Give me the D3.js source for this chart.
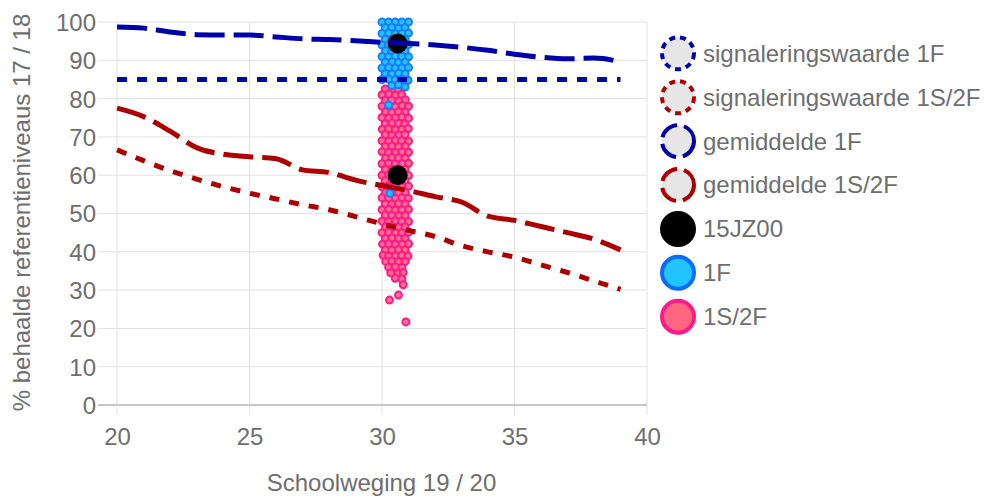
<!DOCTYPE html>
<html>
<head>
<meta charset="utf-8">
<script src="https://cdn.jsdelivr.net/npm/d3@7"></script>
<style>
  html, body { margin: 0; padding: 0; background: #ffffff; }
  svg { display: block; font-family: "Liberation Sans", Arial, sans-serif; }
</style>
</head>
<body>
<svg id="chart" width="985" height="501"></svg>
<script>
// ---------- DATA ----------
const weights = [20,21,22,23,24,25,26,27,28,29,30,31,32,33,34,35,36,37,38,39];
const signal1F   = [85,85,85,85,85,85,85,85,85,85,85,85,85,85,85,85,85,85,85,85];
const signal1S2F = [66.6,63.8,61.2,59.0,57.0,55.3,53.8,52.3,51.0,49.2,47.3,45.6,44.0,41.6,40.0,38.6,36.6,34.6,32.4,30.2];
const mean1F     = [98.7,98.4,97.4,96.7,96.6,96.6,96.1,95.6,95.4,95.1,94.7,94.4,94.0,93.4,92.6,91.6,90.8,90.4,90.6,89.6];
const mean1S2F   = [77.5,75.3,71.5,67.2,65.5,64.8,64.3,61.4,60.7,58.7,57.3,56.0,54.4,53.0,49.3,48.2,46.6,45.0,43.3,40.5];

const school = [[30.59,94.4],[30.59,60.0]];

const points1F = [
  [30.0,100],[30.25,100],[30.5,100],[30.75,100],[31.0,100],
  [30.12,98.5],[30.37,98.6],[30.62,98.4],[30.87,98.5],
  [30.0,97.0],[30.25,97.1],[30.5,96.9],[30.75,97.0],[31.0,97.1],
  [30.12,95.5],[30.37,95.4],[30.62,95.6],[30.87,95.5],
  [30.0,94.0],[30.25,94.1],[30.5,93.9],[30.75,94.0],[31.0,94.1],
  [30.13,92.5],[30.37,92.6],[30.62,92.4],[30.87,92.5],
  [30.0,91.0],[30.25,90.9],[30.5,91.1],[30.75,91.0],[31.0,90.9],
  [30.12,89.5],[30.38,89.6],[30.62,89.4],[30.87,89.5],
  [30.0,88.0],[30.25,88.1],[30.5,87.9],[30.75,88.0],[31.0,88.1],
  [30.12,86.5],[30.37,86.4],[30.63,86.6],[30.87,86.5],
  [30.0,85.0],[30.25,85.1],[30.5,84.9],[30.75,85.0],[30.98,84.8],
  [30.37,83.4],[30.62,83.6],[30.87,83.0],
  [30.25,78.3],[30.3,55.3]
];

const points1S2F = [
  [30.12,82.5],[30.38,82.3],[30.6,82.6],
  [30.0,81.0],[30.26,81.2],[30.5,80.9],[30.74,81.1],
  [30.12,79.5],[30.36,79.6],[30.63,79.4],[30.88,79.7],
  [30.0,78.0],[30.24,78.1],[30.5,77.9],[30.76,78.2],[31.0,78.0],
  [30.13,76.5],[30.37,76.4],[30.62,76.6],[30.87,76.5],
  [30.0,75.1],[30.25,74.9],[30.51,75.0],[30.75,75.2],[31.0,74.9],
  [30.12,73.4],[30.38,73.6],[30.62,73.5],[30.86,73.4],
  [30.01,72.0],[30.25,72.1],[30.5,71.9],[30.75,72.0],[30.99,72.2],
  [30.12,70.6],[30.37,70.4],[30.63,70.5],[30.87,70.6],
  [30.0,69.0],[30.26,68.9],[30.5,69.1],[30.74,69.0],[31.0,68.9],
  [30.12,67.5],[30.37,67.6],[30.62,67.4],[30.88,67.5],
  [30.0,66.1],[30.25,66.0],[30.5,65.9],[30.75,66.1],[31.0,66.0],
  [30.13,64.4],[30.37,64.6],[30.62,64.5],[30.87,64.4],
  [30.0,63.0],[30.25,63.1],[30.49,62.9],[30.75,63.0],[31.0,63.1],
  [30.12,61.5],[30.38,61.4],[30.62,61.6],[30.87,61.5],
  [30.0,60.0],[30.25,59.9],[30.5,60.1],[30.76,60.0],[31.0,59.9],
  [30.12,58.6],[30.37,58.5],[30.63,58.4],[30.87,58.6],
  [30.0,57.0],[30.24,57.1],[30.5,57.0],[30.75,56.9],[31.0,57.1],
  [30.12,55.4],[30.37,55.6],[30.62,55.5],[30.88,55.4],
  [30.0,54.1],[30.25,54.0],[30.5,53.9],[30.75,54.1],[30.99,54.0],
  [30.12,52.5],[30.37,52.4],[30.62,52.6],[30.87,52.5],
  [30.0,51.0],[30.26,51.1],[30.5,50.9],[30.75,51.0],[31.0,51.1],
  [30.12,49.6],[30.37,49.5],[30.63,49.4],[30.87,49.5],
  [30.0,48.0],[30.25,47.9],[30.5,48.1],[30.74,48.0],[31.0,47.9],
  [30.13,46.5],[30.37,46.6],[30.62,46.4],[30.87,46.5],
  [30.0,45.0],[30.25,45.1],[30.5,44.9],[30.75,45.0],[31.0,45.1],
  [30.12,43.4],[30.38,43.6],[30.62,43.5],[30.87,43.4],
  [30.02,42.0],[30.25,42.1],[30.5,41.9],[30.75,42.0],[31.0,42.1],
  [30.12,40.5],[30.37,40.4],[30.62,40.6],[30.87,40.5],
  [30.04,39.1],[30.25,38.9],[30.5,39.0],[30.75,39.1],[30.98,38.9],
  [30.14,37.5],[30.37,37.6],[30.62,37.4],[30.87,37.5],
  [30.25,36.0],[30.5,36.1],[30.75,35.9],
  [30.33,34.5],[30.6,34.4],[30.8,34.6],
  [30.5,33.1],[30.75,32.9],
  [30.8,31.4],
  [30.62,28.7],[30.28,27.4],[30.9,21.7]
];

const xTicks = [20,25,30,35,40];
const yTicks = [0,10,20,30,40,50,60,70,80,90,100];
const legendLabels = ["signaleringswaarde 1F","signaleringswaarde 1S/2F","gemiddelde 1F","gemiddelde 1S/2F","15JZ00","1F","1S/2F"];
const xTitle = "Schoolweging 19 / 20";
const yTitle = "% behaalde referentieniveaus 17 / 18";

// ---------- DRAW ----------
const BLUE = "#0000aa", RED = "#ac0000", TEXT = "#6e6e6e";
const svg = d3.select("#chart");
const x = d3.scaleLinear().domain([19.28, 40]).range([98, 647]);
const y = d3.scaleLinear().domain([-2.6, 100]).range([415, 22]);

// grid
const grid = svg.append("g");
grid.selectAll("line.h").data(yTicks).join("line")
  .attr("x1", x.range()[0]).attr("x2", x.range()[1])
  .attr("y1", d => y(d)).attr("y2", d => y(d))
  .attr("stroke", d => d === 0 ? "#b5b5b5" : "#e2e2e2").attr("stroke-width", 1);
grid.selectAll("line.v").data(xTicks).join("line")
  .attr("x1", d => x(d)).attr("x2", d => x(d))
  .attr("y1", y.range()[1]).attr("y2", y.range()[0])
  .attr("stroke", "#e2e2e2").attr("stroke-width", 1);
grid.append("line").attr("x1", x.range()[0]).attr("x2", x.range()[1])
  .attr("y1", y(0)).attr("y2", y(0)).attr("stroke", "#b5b5b5");

// axis labels via d3 axes
const yAxis = svg.append("g").attr("transform", `translate(${x.range()[0] - 2},0)`)
  .call(d3.axisLeft(y).tickValues(yTicks).tickSize(0).tickPadding(0));
const xAxis = svg.append("g").attr("transform", `translate(0,${y(0) + 23})`)
  .call(d3.axisBottom(x).tickValues(xTicks).tickSize(0).tickPadding(0));
[yAxis, xAxis].forEach(a => {
  a.select(".domain").remove();
  a.selectAll("text").attr("fill", TEXT).attr("font-size", 24)
   .attr("font-family", '"Liberation Sans", Arial, sans-serif');
});
yAxis.selectAll("text").attr("dy", "0.35em");
xAxis.selectAll("text").attr("dy", "0.71em");

// titles
svg.append("text").attr("x", (x.range()[0] + x.range()[1]) / 2 + 9).attr("y", 491)
  .attr("text-anchor", "middle").attr("fill", TEXT).attr("font-size", 24).text(xTitle);
svg.append("text").attr("transform", "translate(30,212.5) rotate(-90)")
  .attr("text-anchor", "middle").attr("fill", TEXT).attr("font-size", 24).text(yTitle);

// scatter
const dots = svg.append("g");
dots.selectAll("circle.p").data(points1S2F).join("circle")
  .attr("cx", d => x(d[0])).attr("cy", d => y(d[1])).attr("r", 3.5)
  .attr("fill", "#ff6e8a").attr("stroke", "#ff1a8c").attr("stroke-width", 2);
dots.selectAll("circle.b").data(points1F).join("circle")
  .attr("cx", d => x(d[0])).attr("cy", d => y(d[1])).attr("r", 3.5)
  .attr("fill", "#22c4ff").attr("stroke", "#1a7dff").attr("stroke-width", 2);
dots.selectAll("circle.s").data(school).join("circle")
  .attr("cx", d => x(d[0])).attr("cy", d => y(d[1])).attr("r", 10)
  .attr("fill", "#000");

// lines
const line = d3.line().x((d, i) => x(weights[i])).y(d => y(d)).curve(d3.curveMonotoneX);
const lineSeries = [
  {v: signal1F, c: BLUE, dash: "10 10"},
  {v: signal1S2F, c: RED, dash: "10 10"},
  {v: mean1F, c: BLUE, dash: "30 9"},
  {v: mean1S2F, c: RED, dash: "30 9"}
];
svg.append("g").selectAll("path").data(lineSeries).join("path")
  .attr("d", d => line(d.v)).attr("fill", "none")
  .attr("stroke", d => d.c).attr("stroke-width", 5)
  .attr("stroke-dasharray", d => d.dash);

// legend
const legendStyles = [
  {fill: "#e6e6e6", stroke: BLUE, dash: "6 5"},
  {fill: "#e6e6e6", stroke: RED, dash: "6 5"},
  {fill: "#e6e6e6", stroke: BLUE, dash: "20 7"},
  {fill: "#e6e6e6", stroke: RED, dash: "20 7"},
  {fill: "#000000", stroke: "#000000", dash: null},
  {fill: "#22c4ff", stroke: "#0a6cff", dash: null},
  {fill: "#ff6680", stroke: "#ff1a8c", dash: null}
];
const lg = svg.append("g").selectAll("g").data(legendLabels).join("g")
  .attr("transform", (d, i) => `translate(678,${53.3 + i * 43.9})`);
lg.append("circle").attr("r", 16)
  .attr("fill", (d, i) => legendStyles[i].fill)
  .attr("stroke", (d, i) => legendStyles[i].stroke)
  .attr("stroke-width", 4)
  .attr("stroke-dasharray", (d, i) => legendStyles[i].dash);
lg.append("text").attr("x", 25).attr("dy", "0.35em")
  .attr("fill", TEXT).attr("font-size", 24).text(d => d);
</script>
</body>
</html>
